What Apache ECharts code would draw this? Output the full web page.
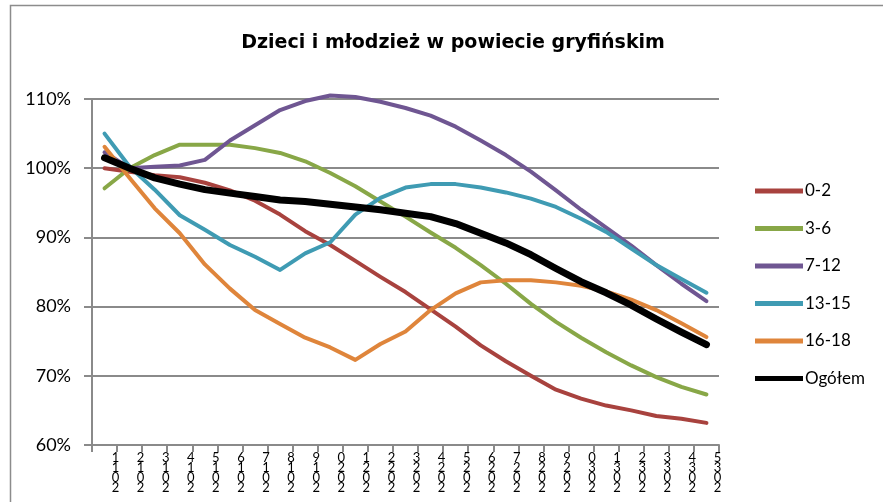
<!DOCTYPE html>
<html>
<head>
<meta charset="utf-8">
<script src="https://cdn.jsdelivr.net/npm/echarts@6/dist/echarts.min.js"></script>
<style>html,body{margin:0;padding:0;background:#fff;}#c{width:883px;height:502px;}</style>
</head>
<body>
<div id="c"></div>
<script>
const categories = ['2011','2012','2013','2014','2015','2016','2017','2018','2019','2020','2021','2022','2023','2024','2025','2026','2027','2028','2029','2030','2031','2032','2033','2034','2035'];
const yTicks = [60, 70, 80, 90, 100, 110];
const s0_2   = [100.0, 99.5, 99.0, 98.7, 97.9, 96.8, 95.3, 93.3, 90.9, 88.9, 86.6, 84.3, 82.1, 79.6, 77.1, 74.4, 72.1, 70.0, 68.0, 66.7, 65.7, 65.0, 64.2, 63.8, 63.2];
const s3_6   = [97.1, 100.0, 101.9, 103.4, 103.4, 103.4, 102.9, 102.2, 101.0, 99.3, 97.4, 95.2, 93.0, 90.7, 88.5, 86.0, 83.3, 80.4, 77.8, 75.5, 73.4, 71.5, 69.8, 68.4, 67.3];
const s7_12  = [102.3, 100.0, 100.2, 100.4, 101.2, 104.0, 106.2, 108.4, 109.7, 110.5, 110.3, 109.6, 108.7, 107.6, 106.0, 104.0, 101.9, 99.5, 96.8, 94.0, 91.4, 88.8, 86.0, 83.3, 80.8];
const s13_15 = [105.0, 100.2, 96.9, 93.2, 91.1, 88.9, 87.2, 85.3, 87.7, 89.3, 93.3, 95.7, 97.2, 97.7, 97.7, 97.2, 96.5, 95.6, 94.4, 92.7, 90.8, 88.4, 86.0, 84.0, 82.0];
const s16_18 = [103.1, 98.6, 94.2, 90.6, 86.1, 82.6, 79.5, 77.5, 75.5, 74.1, 72.3, 74.6, 76.4, 79.5, 81.9, 83.5, 83.8, 83.8, 83.5, 83.0, 82.2, 81.0, 79.5, 77.6, 75.6];
const sAll   = [101.5, 100.0, 98.6, 97.7, 96.9, 96.4, 95.9, 95.4, 95.2, 94.8, 94.4, 94.0, 93.5, 93.0, 92.0, 90.6, 89.2, 87.5, 85.5, 83.6, 82.0, 80.2, 78.2, 76.3, 74.5];
const seriesNames = ['0-2', '3-6', '7-12', '13-15', '16-18', 'Ogółem'];
const seriesData = [s0_2, s3_6, s7_12, s13_15, s16_18, sAll];
const colors = ['#A8423E', '#88A747', '#6F5692', '#3F9BB3', '#DF853B', '#000000'];
const widths = [4, 4, 4, 4, 4, 7];

const FONT = 'Lato';
const chart = echarts.init(document.getElementById('c'), null, {renderer: 'canvas'});
chart.setOption({
  animation: false,
  backgroundColor: '#fff',
  color: colors,
  graphic: [{
    type: 'rect', left: 8, top: 3, silent: true,
    shape: {x: 0, y: 0, width: 900, height: 520},
    style: {fill: 'none', stroke: '#8c8c8c', lineWidth: 1.5}
  }],
  title: {
    text: 'Dzieci i młodzież w powiecie gryfińskim',
    left: 448, textAlign: 'center', top: 29,
    textStyle: {fontFamily: 'DejaVu Sans', fontWeight: 'bold', fontSize: 19, color: '#000'}
  },
  legend: {
    orient: 'vertical', left: 750, top: 177,
    itemWidth: 48, itemHeight: 5, itemGap: 19.5, icon: 'rect',
    textStyle: {fontFamily: FONT, fontSize: 17, color: '#000', lineHeight: 18, padding: [0, 0, 0, -3]},
    data: seriesNames
  },
  grid: {left: 92, right: 164, top: 99, bottom: 57, containLabel: false},
  xAxis: {
    type: 'category', data: categories, boundaryGap: true,
    axisLine: {lineStyle: {color: '#8a8a8a', width: 2}},
    axisTick: {show: true, length: 7, interval: 0, lineStyle: {color: '#8a8a8a', width: 2}},
    axisLabel: {
      interval: 0, margin: 8, fontFamily: FONT, fontSize: 13, lineHeight: 10, color: '#000',
      padding: [0, 0, 0, 22],
      formatter: v => v.split('').reverse().join('\n')
    },
    splitLine: {show: false}
  },
  yAxis: {
    type: 'value', min: yTicks[0], max: yTicks[yTicks.length - 1], interval: 10,
    axisLine: {show: true, lineStyle: {color: '#8a8a8a', width: 2}},
    axisTick: {show: true, length: 8, lineStyle: {color: '#8a8a8a', width: 2}},
    axisLabel: {margin: 21, fontFamily: FONT, fontSize: 18, color: '#000', formatter: v => v + '%'},
    splitLine: {show: true, lineStyle: {color: '#8a8a8a', width: 2}}
  },
  series: seriesNames.map((n, i) => ({
    name: n, type: 'line', data: seriesData[i], showSymbol: false, symbol: 'none', clip: false,
    lineStyle: {width: widths[i], color: colors[i], cap: 'round', join: 'round'},
    itemStyle: {color: colors[i]},
    z: i === 5 ? 5 : 2
  }))
});
</script>
</body>
</html>
